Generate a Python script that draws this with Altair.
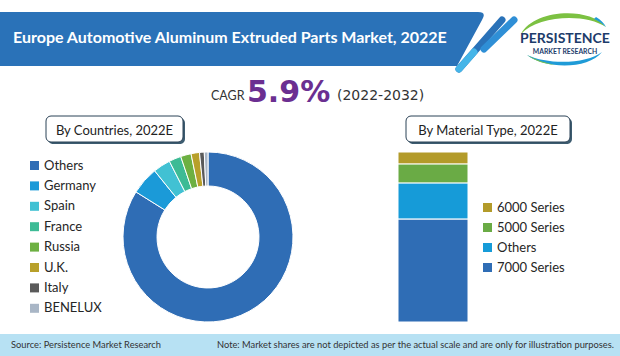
import altair as alt
import pandas as pd

# ---------------- data ----------------
countries = ["Others", "Germany", "Spain", "France", "Russia", "U.K.", "Italy", "BENELUX"]
country_share = [83.9, 5.3, 3.3, 2.3, 2.0, 1.6, 0.9, 0.7]
country_colors = ["#2f6db5", "#1b9ad8", "#41c1d3", "#3dbb95", "#6db042", "#b8a02a", "#5a5a5a", "#a9b6c6"]

materials = ["6000 Series", "5000 Series", "Others", "7000 Series"]
material_share = [7.1, 11.2, 21.2, 60.5]
material_stack = [4, 3, 2, 1]
material_colors = ["#b39b2a", "#6aab45", "#169bd8", "#2f6db5"]

title_text = "Europe Automotive Aluminum Extruded Parts Market, 2022E"
cagr_value = "5.9%"
cagr_period = "(2022-2032)"
source_text = "Source: Persistence Market Research"
note_text = "Note: Market shares are not depicted as per the actual scale and are only for illustration purposes."

df_c = pd.DataFrame({"country": countries, "share": country_share, "rank": list(range(len(countries)))})
df_m = pd.DataFrame({"material": materials, "share": material_share, "stack": material_stack, "grp": ["bar"] * 4})
one = pd.DataFrame({"t": [""]})


def txt(s, x, y, size, color="#262626", weight="normal", align="left", font="Lato"):
    return alt.Chart(pd.DataFrame({"t": [s]})).mark_text(
        align=align, baseline="alphabetic", font=font, fontSize=size, fontWeight=weight, color=color
    ).encode(text="t:N", x=alt.value(x), y=alt.value(y))


def shape(path, color):
    return alt.Chart(one).mark_point(
        shape=path, size=4, filled=True, color=color, opacity=1, strokeWidth=0
    ).encode(x=alt.value(0), y=alt.value(0))


def rect(x, x2, y, y2, fill, stroke=None, r=0, sw=1):
    kw = dict(fill=fill, cornerRadius=r)
    if stroke:
        kw.update(stroke=stroke, strokeWidth=sw)
    return alt.Chart(one).mark_rect(**kw).encode(
        x=alt.value(x), x2=alt.value(x2), y=alt.value(y), y2=alt.value(y2)
    )


def rule(x, y, x2, y2, color, w):
    return alt.Chart(one).mark_rule(color=color, strokeWidth=w, strokeCap="round").encode(
        x=alt.value(x), x2=alt.value(x2), y=alt.value(y), y2=alt.value(y2)
    )


# ---------------- header ----------------
band = shape("M0,12 H478 Q487,12 482,20 L457,66 H0 Z", "#2a72b8")
slash1 = rule(459, 69, 502, 20, "#2a72b8", 7)
slash1b = rule(459, 69, 474, 52, "#45b5e8", 7)
slash2 = rule(484, 49, 514, 20, "#2f8fd6", 7)
title = txt(title_text, 13, 43, 16, color="white", weight="bold")

swoosh_top = shape("M521,34 C533,10 588,6 606,27 C586,13 538,15 521,34 Z", "#7cc142")
swoosh_top_b = shape("M596,17 C601,20 604,23 606,27 C603,24 600,22 594,19 Z", "#1f9bd7")
swoosh_bot = shape("M527,55 C545,69 588,70 602,52 C587,64 548,65 527,55 Z", "#1f9bd7")
swoosh_bot_g = shape("M527,55 C535,61 545,64 555,65 C546,63 536,60 527,55 Z", "#7cc142")
logo1 = txt("PERSISTENCE", 565, 43, 14, color="#1d3c6b", weight="bold", align="center")
logo2 = txt("MARKET RESEARCH", 565, 53.5, 6.8, color="#1d3c6b", weight="bold", align="center")

# ---------------- CAGR ----------------
cagr1 = txt("CAGR", 211, 100, 12.5, color="#333333")
cagr2 = txt(cagr_value, 247, 102, 30, color="#6b2f91", weight="bold", font="DejaVu Sans")
cagr3 = txt(cagr_period, 337, 100, 14, color="#333333", font="DejaVu Sans")

# ---------------- boxes ----------------
box1s = rect(48, 185, 118, 144, "#3d5c70", r=5)
box1 = rect(46, 183, 116, 142, "white", stroke="#2b4256", r=5)
box1t = txt("By Countries, 2022E", 114.5, 134.5, 13, color="#222222", align="center")
box2s = rect(408, 572, 118, 144, "#3d5c70", r=5)
box2 = rect(406, 570, 116, 142, "white", stroke="#2b4256", r=5)
box2t = txt("By Material Type, 2022E", 488, 134.5, 13, color="#222222", align="center")

# ---------------- donut ----------------
donut = alt.Chart(df_c).mark_arc(radius=85, radius2=51, stroke="white", strokeWidth=1).encode(
    theta=alt.Theta("share:Q", stack=True),
    order=alt.Order("rank:Q"),
    color=alt.Color(
        "country:N",
        scale=alt.Scale(domain=countries, range=country_colors),
        legend=alt.Legend(
            orient="none", legendX=28, legendY=159, title=None, symbolType="square",
            symbolSize=81, symbolStrokeWidth=0, labelFont="Lato", labelFontSize=13,
            labelColor="#262626", rowPadding=6.4, labelOffset=3, padding=0,
        ),
    ),
    x=alt.value(208),
    y=alt.value(237),
)

# ---------------- stacked bar ----------------
bar = alt.Chart(df_m).mark_bar(stroke="white", strokeWidth=1).encode(
    x=alt.X("grp:N", scale=alt.Scale(range=[398, 468], paddingInner=0, paddingOuter=0), axis=None),
    y=alt.Y("share:Q", stack="zero", scale=alt.Scale(domain=[0, 100], range=[322, 152]), axis=None),
    order=alt.Order("stack:Q"),
    color=alt.Color(
        "material:N",
        scale=alt.Scale(domain=materials, range=material_colors),
        legend=alt.Legend(
            orient="none", legendX=481, legendY=201, title=None, symbolType="square",
            symbolSize=81, symbolStrokeWidth=0, labelFont="Lato", labelFontSize=13,
            labelColor="#262626", rowPadding=6, labelOffset=3, padding=0,
        ),
    ),
)

# ---------------- footer ----------------
footer = rect(0, 620, 334, 356, "#b7e1f3")
src = txt(source_text, 11, 348, 9.3, color="#333333")
note = txt(note_text, 217, 348, 9.3, color="#333333")

chart = alt.layer(
    band, slash1, slash1b, slash2, title,
    swoosh_top, swoosh_top_b, swoosh_bot, swoosh_bot_g, logo1, logo2,
    cagr1, cagr2, cagr3,
    box1s, box1, box1t, box2s, box2, box2t,
    donut, bar,
    footer, src, note,
).resolve_scale(color="independent").properties(
    width=620, height=356, padding=0, autosize="none", background="white"
).configure_view(stroke=None)

chart.save("out.html", embed_options={"renderer": "svg", "actions": False})
